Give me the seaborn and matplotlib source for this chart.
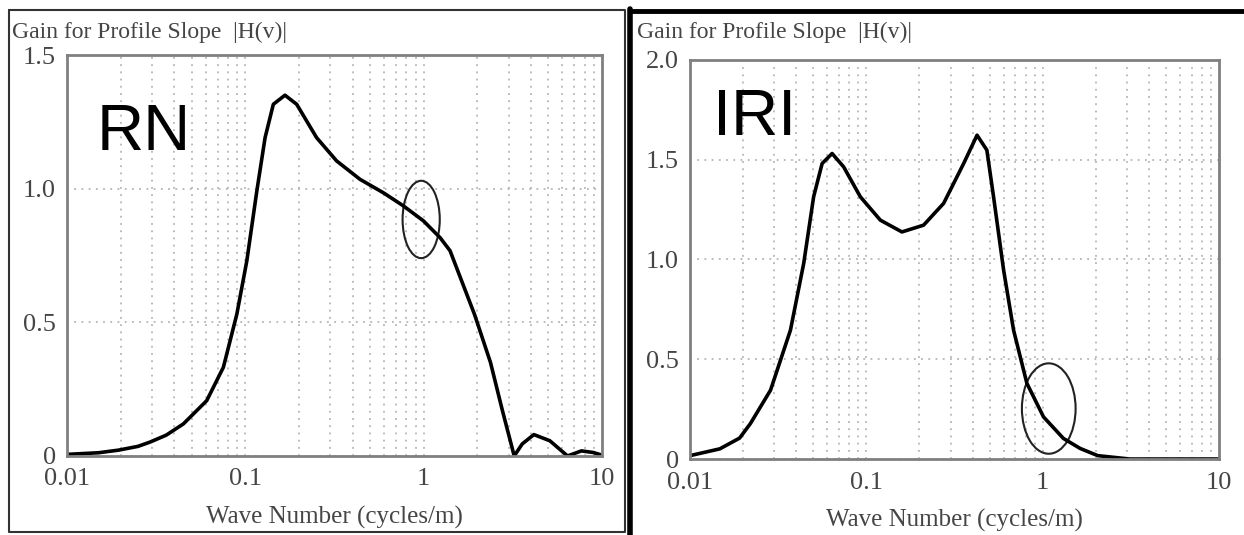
import matplotlib
matplotlib.use('Agg')
import matplotlib.pyplot as plt
from matplotlib.patches import Ellipse
from matplotlib.ticker import LogLocator, FixedLocator
from matplotlib.lines import Line2D
import pandas as pd
import seaborn as sns

# RN gain curve
rn_wave = [0.01, 0.015, 0.0195, 0.025, 0.0292, 0.036, 0.0449, 0.0607, 0.0753, 0.0896,
           0.1019, 0.116, 0.129, 0.1435, 0.1668, 0.194, 0.251, 0.325, 0.440, 0.594,
           0.769, 0.996, 1.236, 1.406, 1.93, 2.37, 2.76, 3.22, 3.57, 4.15, 5.1, 6.41,
           7.67, 8.94, 10.0]
rn_gain = [0.006, 0.012, 0.022, 0.036, 0.052, 0.078, 0.120, 0.207, 0.332, 0.531,
           0.730, 0.992, 1.191, 1.316, 1.350, 1.316, 1.191, 1.104, 1.035, 0.985,
           0.936, 0.880, 0.817, 0.768, 0.529, 0.35, 0.172, 0.0, 0.045, 0.08, 0.057, 0.0,
           0.019, 0.013, 0.003]

# IRI gain curve
iri_wave = [0.01, 0.01475, 0.0191, 0.0220, 0.0286, 0.0371, 0.0441, 0.0502, 0.0561,
            0.0639, 0.0743, 0.0924, 0.120, 0.159, 0.211, 0.274, 0.356, 0.424, 0.482,
            0.526, 0.600, 0.683, 0.813, 1.01, 1.31, 1.63, 2.05, 3.11, 10.0]
iri_gain = [0.017, 0.051, 0.105, 0.178, 0.345, 0.646, 0.980, 1.314, 1.481,
            1.531, 1.464, 1.314, 1.197, 1.138, 1.172, 1.281, 1.481, 1.623, 1.548,
            1.314, 0.946, 0.646, 0.379, 0.211, 0.103, 0.053, 0.017, 0.0, 0.0]

x_ticks = [0.01, 0.1, 1, 10]
x_ticklabels = ["0.01", "0.1", "1", "10"]
rn_yticks = [0, 0.5, 1.0, 1.5]
rn_yticklabels = ["0", "0.5", "1.0", "1.5"]
iri_yticks = [0, 0.5, 1.0, 1.5, 2.0]
iri_yticklabels = ["0", "0.5", "1.0", "1.5", "2.0"]

sns.set_style("white")
plt.rcParams['font.family'] = ['Liberation Serif', 'DejaVu Serif']

fig = plt.figure(figsize=(12.44, 5.35), dpi=100)

text_gray = "#454545"


def draw_panel(pos, wave, gain, yticks, yticklabels, ymax, tag, tag_xy, ell, title_x):
    ax = fig.add_axes(pos)
    df = pd.DataFrame({"wave": wave, "gain": gain})
    sns.lineplot(data=df, x="wave", y="gain", ax=ax, color="black", linewidth=2.6, sort=False)
    ax.set_xscale("log")
    ax.set_xlim(0.01, 10)
    ax.set_ylim(0, ymax)
    ax.xaxis.set_major_locator(FixedLocator(x_ticks))
    ax.set_xticklabels(x_ticklabels)
    ax.xaxis.set_minor_locator(LogLocator(base=10, subs=range(2, 10)))
    ax.set_yticks(yticks)
    ax.set_yticklabels(yticklabels)
    ax.grid(True, which="both", axis="x", color="#b5b5b5", linestyle=(0, (1, 3)), linewidth=1.3)
    ax.grid(True, which="major", axis="y", color="#b5b5b5", linestyle=(0, (1, 3)), linewidth=1.3)
    ax.tick_params(axis="both", which="both", length=0, labelsize=19, colors=text_gray)
    ax.tick_params(axis="x", pad=9)
    ax.tick_params(axis="y", pad=8)
    for s in ax.spines.values():
        s.set_color("#808080")
        s.set_linewidth(2)
    ax.set_xlabel("Wave Number (cycles/m)", fontsize=18, color=text_gray, labelpad=11)
    ax.set_ylabel("")
    ax.text(tag_xy[0], tag_xy[1], tag, transform=ax.transAxes, fontsize=47,
            family="Liberation Sans", color="black", va="baseline", ha="left")
    ax.add_patch(Ellipse(ell[:2], ell[2], ell[3], transform=ax.transAxes,
                         fill=False, edgecolor="#222222", linewidth=1.5))
    fig.text(title_x, 0.94, "Gain for Profile Slope  |H(v)|", fontsize=17,
             color=text_gray, ha="left", va="center")
    return ax


draw_panel([0.0539, 0.1477, 0.430, 0.7493], rn_wave, rn_gain, rn_yticks, rn_yticklabels,
           1.5, "RN", (0.056, 0.763), (0.662, 0.590, 0.0695, 0.193), 0.010)
draw_panel([0.5547, 0.142, 0.4253, 0.746], iri_wave, iri_gain, iri_yticks, iri_yticklabels,
           2.0, "IRI", (0.044, 0.812), (0.678, 0.1265, 0.1015, 0.2265), 0.512)

# outer frames of the two screenshots
W, H = 1244.0, 535.0
fig.add_artist(Line2D([9 / W, 625 / W, 625 / W, 9 / W, 9 / W],
                      [1 - 10 / H, 1 - 10 / H, 1 - 532 / H, 1 - 532 / H, 1 - 10 / H],
                      color="#333333", linewidth=1.5))
fig.add_artist(Line2D([629.5 / W, 629.5 / W], [0, 1 - 9 / H], color="black", linewidth=4))
fig.add_artist(Line2D([629.5 / W, 1], [1 - 11 / H, 1 - 11 / H], color="black", linewidth=3.5))

fig.savefig("out.png", dpi=100)
plt.close(fig)
